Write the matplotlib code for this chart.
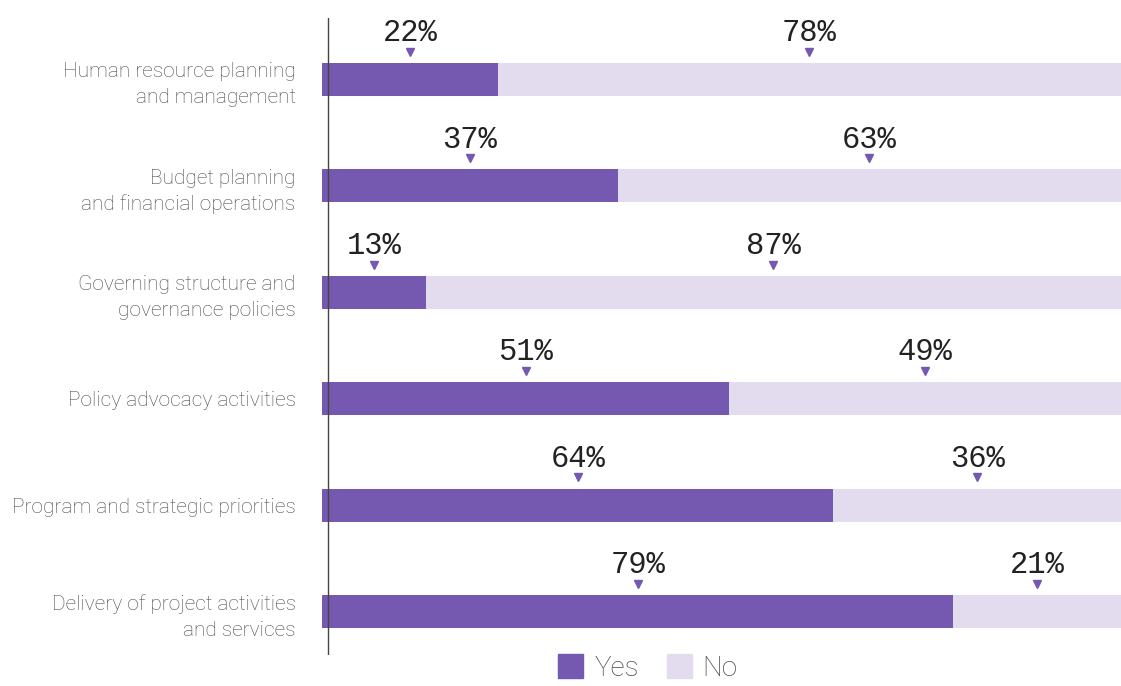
import matplotlib
matplotlib.use("Agg")
import matplotlib.pyplot as plt
from matplotlib.patches import Patch

# datos de la encuesta (porcentajes)
categorias = ["Human resource planning\nand management",
              "Budget planning\nand financial operations",
              "Governing structure and\ngovernance policies",
              "Policy advocacy activities",
              "Program and strategic priorities",
              "Delivery of project activities\nand services"]
si = [22, 37, 13, 51, 64, 79]
no = [78, 63, 87, 49, 36, 21]

color_si = "#7558b0"
color_no = "#e3dcee"
gris = "#4a4a4a"

fig = plt.figure(figsize=(11.21, 6.86), dpi=100)
ax = fig.add_axes([322/1121, 1 - 655/686, 1 - 322/1121, (655 - 18)/686])

y = list(range(len(categorias)))
ax.barh(y, si, height=0.31, color=color_si)
ax.barh(y, no, left=si, height=0.31, color=color_no)

ax.set_xlim(0, 100)
ax.set_ylim(5.409, -0.578)

# etiquetas arriba de cada segmento con un triangulito
for i in y:
    for centro, val in ((si[i] / 2, si[i]), (si[i] + no[i] / 2, no[i])):
        ax.plot(centro, i - 0.26, marker="v", color=color_si, markersize=6,
                clip_on=False)
        ax.text(centro, i - 0.36, f"{val}%", ha="center", va="baseline",
                fontsize=22, family="Liberation Mono", color="#222222")

for s in ax.spines.values():
    s.set_visible(False)
ax.axvline(0.8, color="#444444", lw=1)
ax.set_xticks([])
ax.set_yticks(y)
ax.set_yticklabels(categorias, fontsize=15, family="Roboto", fontweight="light",
                   color=gris, linespacing=1.45)
ax.tick_params(axis="y", length=0, pad=19)

handles = [Patch(color=color_si), Patch(color=color_no)]
fig.legend(handles, ["Yes", "No"], loc="lower center", bbox_to_anchor=(0.578, -0.03),
           ncol=2, frameon=False, handlelength=0.9, handleheight=0.9,
           handletextpad=0.4, columnspacing=1.0,
           prop={"family": "Roboto", "weight": "light", "size": 20},
           labelcolor=gris)

fig.savefig("out.png", dpi=100)
